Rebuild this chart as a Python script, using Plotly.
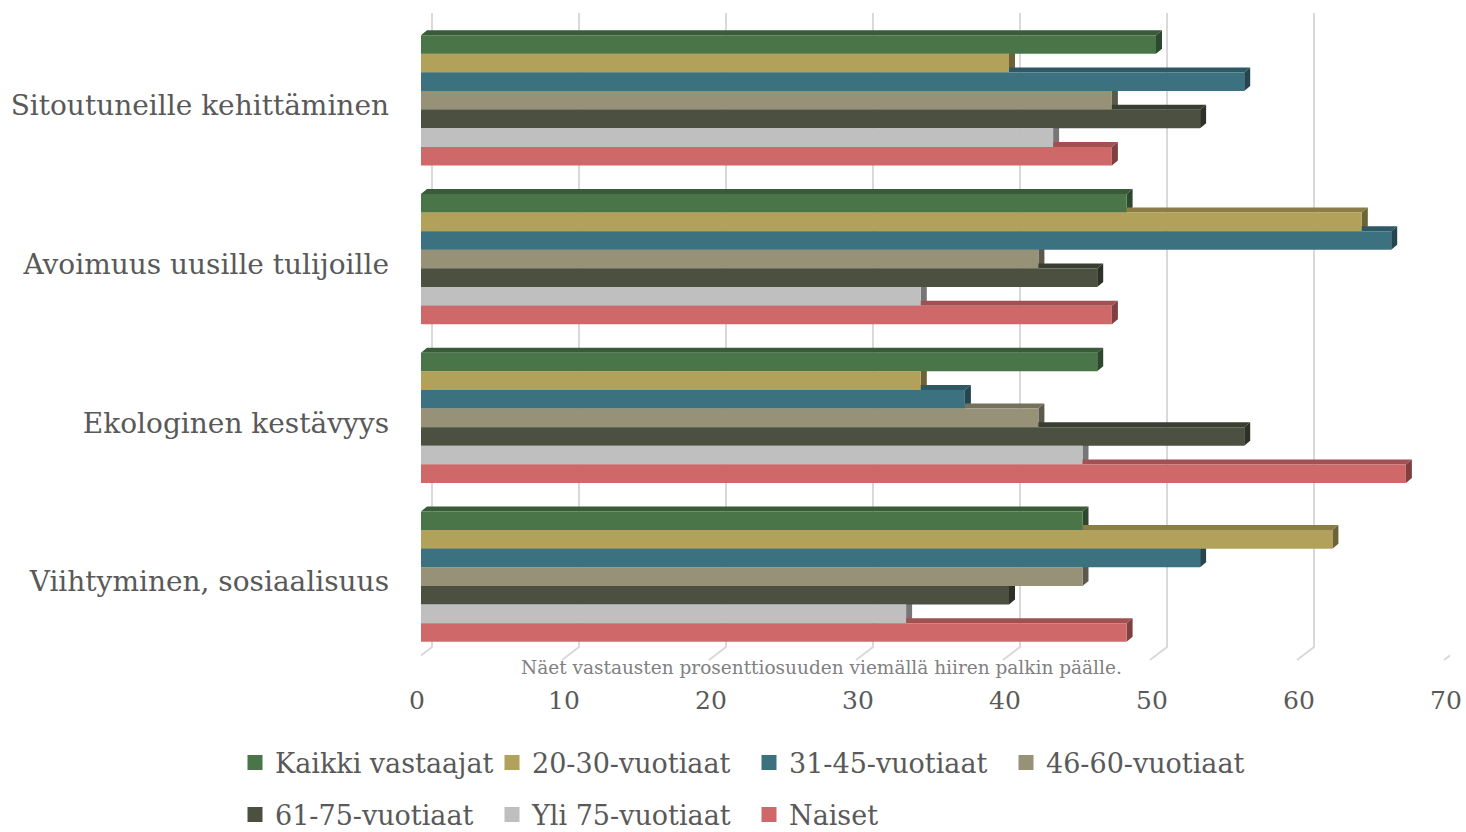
import plotly.graph_objects as go

categories = ["Sitoutuneille kehittäminen", "Avoimuus uusille tulijoille",
              "Ekologinen kestävyys", "Viihtyminen, sosiaalisuus"]
series_names = ["Kaikki vastaajat", "20-30-vuotiaat", "31-45-vuotiaat", "46-60-vuotiaat",
                "61-75-vuotiaat", "Yli 75-vuotiaat", "Naiset"]
kaikki = [50, 48, 46, 45]
v20_30 = [40, 64, 34, 62]
v31_45 = [56, 66, 37, 53]
v46_60 = [47, 42, 42, 45]
v61_75 = [53, 46, 56, 40]
yli75 = [43, 34, 45, 33]
naiset = [47, 47, 67, 48]
series_values = [kaikki, v20_30, v31_45, v46_60, v61_75, yli75, naiset]
colors = ["#4a7549", "#b1a15a", "#3c7280", "#979178", "#4b5040", "#bfbfbf", "#cf6868"]
x_ticks = [0, 10, 20, 30, 40, 50, 60, 70]
note = "Näet vastausten prosenttiosuuden viemällä hiiren palkin päälle."

W, H = 1466, 832
ML, MR, MT, MB = 421, 16, 21, 176
BARGAP = 0.179
FONT = "DejaVu Serif"
TXT = "#595959"

plot_w = W - ML - MR
plot_h = H - MT - MB
xr = 70.0
px_x = plot_w / xr              # px per x unit
px_y = plot_h / len(categories)  # px per category


def shade(hexc, f):
    h = hexc.lstrip("#")
    r, g, b = int(h[0:2], 16), int(h[2:4], 16), int(h[4:6], 16)
    return "rgb(%d,%d,%d)" % (r * f, g * f, b * f)


fig = go.Figure()
for i, (name, vals, col) in enumerate(zip(series_names, series_values, colors)):
    fig.add_trace(go.Bar(
        y=categories, x=vals, name=name, orientation="h",
        marker=dict(color=col, line=dict(width=0)),
        showlegend=False,
        hovertemplate="%{y}<br>" + name + ": %{x} %<extra></extra>",
    ))
# legend entries (square markers like the original)
for i, (name, col) in enumerate(zip(series_names, colors)):
    fig.add_trace(go.Scatter(
        x=[None], y=[None], mode="markers", name=name,
        marker=dict(symbol="square", size=15, color=col),
        legend="legend" if i < 4 else "legend2", hoverinfo="skip",
    ))

shapes = []
# gridlines: back wall verticals + floor diagonals
dxb = 11 / px_x
dxf = -6 / px_x
for t in x_ticks:
    shapes.append(dict(
        type="path", xref="x", yref="paper", layer="below",
        path="M %f,%f L %f,%f L %f,%f" % (t + dxb, 1 + 8 / plot_h, t + dxb, 9 / plot_h,
                                         t + dxf, -4 / plot_h),
        line=dict(color="#d9d9d9", width=2),
    ))

# 3D faces for bars
n = len(series_names)
bw = (1 - BARGAP) / n
ddx = 6 / px_x
ddy = 5 / px_y
for i, (vals, col) in enumerate(zip(series_values, colors)):
    for j, v in enumerate(vals):
        yc = j - (1 - BARGAP) / 2 + (i + 0.5) * bw
        yt = yc - bw / 2
        yb = yc + bw / 2
        # top face
        shapes.append(dict(
            type="path", xref="x", yref="y", layer="below",
            path="M 0,%f L %f,%f L %f,%f L %f,%f Z" % (yt, v, yt, v + ddx, yt - ddy, ddx, yt - ddy),
            fillcolor=shade(col, 0.78), line=dict(width=0),
        ))
        # side face
        shapes.append(dict(
            type="path", xref="x", yref="y", layer="below",
            path="M %f,%f L %f,%f L %f,%f L %f,%f Z" % (v, yb, v, yt, v + ddx, yt - ddy, v + ddx, yb - ddy),
            fillcolor=shade(col, 0.62), line=dict(width=0),
        ))

LEG_X = (235 - ML) / plot_w
fig.update_layout(
    width=W, height=H,
    margin=dict(l=ML, r=MR, t=MT, b=MB, autoexpand=False),
    paper_bgcolor="white", plot_bgcolor="rgba(0,0,0,0)",
    barmode="group", bargap=BARGAP, bargroupgap=0,
    font=dict(family=FONT, color=TXT),
    shapes=shapes,
    xaxis=dict(range=[0, xr], tickvals=x_ticks, showgrid=False, zeroline=False,
               showline=False, ticks="", tickfont=dict(size=25, color=TXT),
               ticklabelstandoff=27, ticklabelshift=-4, fixedrange=True, automargin=False),
    yaxis=dict(type="category", categoryorder="array", categoryarray=categories,
               autorange="reversed", showgrid=False, zeroline=False, showline=False,
               ticks="", tickfont=dict(size=28, color=TXT), ticklabelstandoff=31,
               ticklabelshift=-5, fixedrange=True, automargin=False),
    legend=dict(orientation="h", x=LEG_X, xanchor="left",
                y=(H - MB - 763) / plot_h, yanchor="middle",
                font=dict(size=27, color=TXT), entrywidth=212, traceorder="normal",
                bgcolor="rgba(0,0,0,0)"),
    legend2=dict(orientation="h", x=LEG_X, xanchor="left",
                 y=(H - MB - 815) / plot_h, yanchor="middle",
                 font=dict(size=27, color=TXT), entrywidth=212, traceorder="normal",
                 bgcolor="rgba(0,0,0,0)"),
    annotations=[dict(text=note, xref="paper", yref="paper",
                      x=(821 - ML) / plot_w, y=(H - MB - 667) / plot_h,
                      xanchor="center", yanchor="middle", showarrow=False,
                      font=dict(size=18.5, color="#808080"))],
)

fig.write_html("out.html", config={"displayModeBar": False},
               post_script="document.body.style.margin='0';document.body.style.overflow='hidden';")
